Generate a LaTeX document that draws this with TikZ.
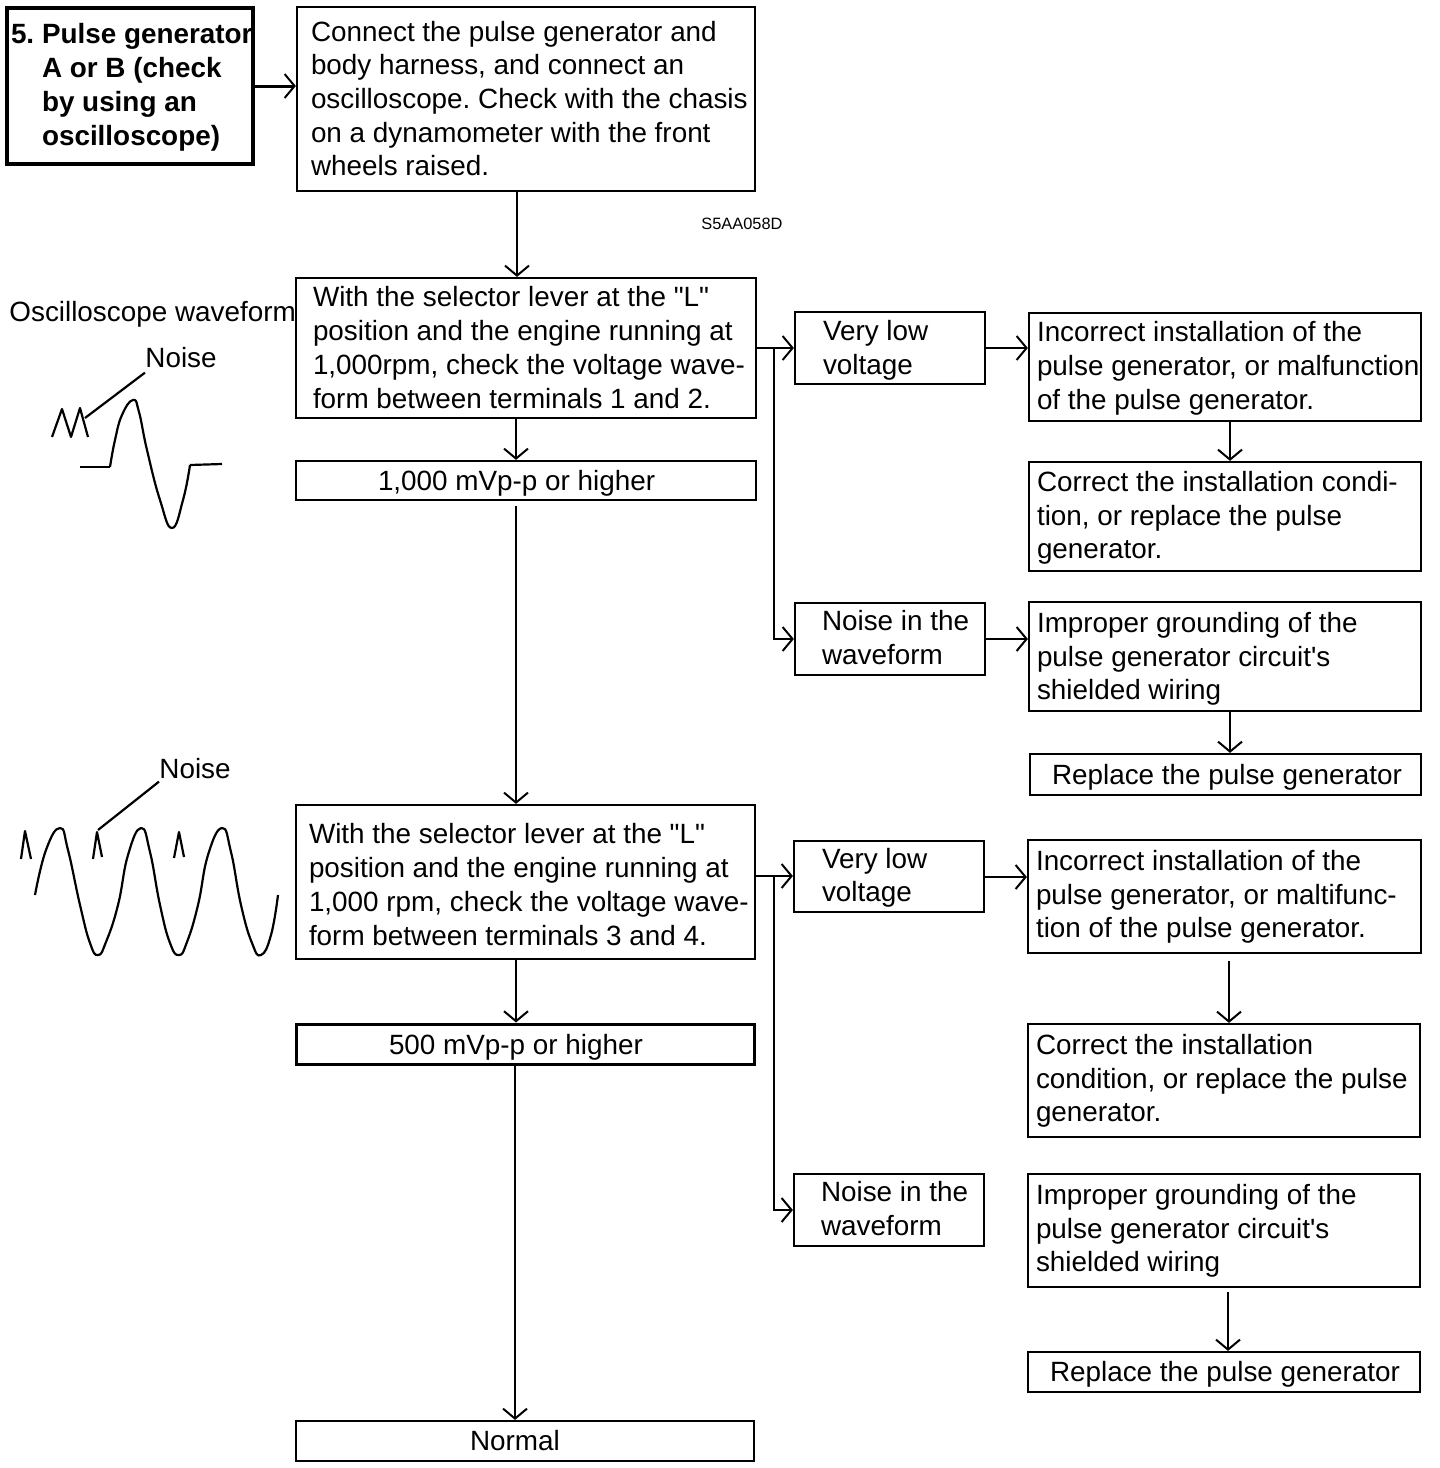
\documentclass[tikz,border=0pt]{standalone}
\usepackage{fontspec}
\setmainfont{Liberation Sans}[Ligatures=TeXOff]
\usetikzlibrary{arrows.meta}
\frenchspacing
\newcommand\bodyfont{\fontsize{13.93}{16.85}\selectfont\frenchspacing}
\tikzset{
  box/.style={draw=black,line width=1.1pt,inner sep=0pt,fill=white},
  titlebox/.style={box,line width=2pt,font=\bodyfont\bfseries},
  heavybox/.style={box,line width=1.5pt},
  conn/.style={line width=1.1pt,-{Straight Barb[length=5pt,width=12pt,line width=1pt]}},
  plain/.style={line width=1.1pt},
  wave/.style={line width=1.1pt,line join=round},
  lab/.style={anchor=west,inner sep=0pt}
}
\newcommand\bx[7][]{%
  \pgfmathsetlengthmacro\bxw{(#4-#2)*0.5pt}%
  \pgfmathsetlengthmacro\bxh{(#5-#3)*0.5pt}%
  \pgfmathsetlengthmacro\bxp{#6*0.5pt}%
  \pgfmathsetlengthmacro\bxr{-(\bxdy*0.5+3.48)*1pt}%
  \node[box,#1,minimum width=\bxw,minimum height=\bxh] (#7)
    at ({(#2+#4)/2},{(#3+#5)/2}) {\hbox to \bxw{\hskip\bxp\raisebox{\bxr}[0pt][0pt]{\bxtext}\hss}};}
\newcommand\tb[2][2.5]{\gdef\bxdy{#1}\gdef\bxtext{\begin{tabular}[c]{@{}l@{}}#2\end{tabular}}}
\begin{document}
\begin{tikzpicture}[x=0.5pt,y=-0.5pt,font=\bodyfont]
\useasboundingbox (0,0) rectangle (1440,1468);
\fill[white] (0,0) rectangle (1440,1468);
\tb[2]{5.\hspace{3.9pt}Pulse generator\\\hspace{15.5pt}A or B (check\\\hspace{15.5pt}by using an\\\hspace{15.5pt}oscilloscope)}
\bx[titlebox]{7}{8}{253}{164}{4}{b0}
\tb[3]{Connect the pulse generator and\\body harness, and connect an\\oscilloscope. Check with the chasis\\on a dynamometer with the front\\wheels raised.}
\bx{297}{7}{755}{191}{14}{b1}
\tb[3]{With the selector lever at the "L"\\position and the engine running at\\1,000rpm, check the voltage wave-\\form between terminals 1 and 2.}
\bx{296}{278}{756}{418}{17}{b2}
\tb[3]{1,000 mVp-p or higher}
\bx{296}{461}{756}{500}{82}{b3}
\tb[3]{Very low\\voltage}
\bx{795}{312}{985}{384}{28}{b4}
\tb[2]{Incorrect installation of the\\pulse generator, or malfunction\\of the pulse generator.}
\bx{1029}{313}{1421}{421}{8}{b5}
\tb[2]{Correct the installation condi-\\tion, or replace the pulse\\generator.}
\bx{1029}{462}{1421}{571}{8}{b6}
\tb[2]{Noise in the\\waveform}
\bx{795}{603}{985}{675}{27}{b7}
\tb[3]{Improper grounding of the\\pulse generator circuit's\\shielded wiring}
\bx{1029}{602}{1421}{711}{8}{b8}
\tb[3]{Replace the pulse generator}
\bx{1030}{754}{1421}{795}{22}{b9}
\tb[6]{With the selector lever at the "L"\\position and the engine running at\\1,000 rpm, check the voltage wave-\\form between terminals 3 and 4.}
\bx{296}{805}{755}{959}{13}{b10}
\tb[3.5]{500 mVp-p or higher}
\bx[heavybox]{296}{1024}{754}{1064}{93}{b11}
\tb[2]{Very low\\voltage}
\bx{794}{841}{984}{912}{28}{b12}
\tb[1]{Incorrect installation of the\\pulse generator, or maltifunc-\\tion of the pulse generator.}
\bx{1028}{840}{1421}{953}{8}{b13}
\tb[1]{Correct the installation\\condition, or replace the pulse\\generator.}
\bx{1028}{1024}{1420}{1137}{8}{b14}
\tb[2]{Noise in the\\waveform}
\bx{794}{1174}{984}{1246}{27}{b15}
\tb[1]{Improper grounding of the\\pulse generator circuit's\\shielded wiring}
\bx{1028}{1174}{1420}{1287}{8}{b16}
\tb[3]{Replace the pulse generator}
\bx{1028}{1352}{1420}{1392}{22}{b17}
\tb[2.5]{Normal}
\bx{296}{1421}{754}{1461}{174}{b18}
% labels
\node[lab,font=\fontsize{8.2}{9.6}\selectfont] (code) at (701,224) {S5AA058D};
\node[lab] (osc) at (9,314) {Oscilloscope waveform};
\node[lab] (n1) at (145,358) {Noise};
\node[lab] (n2) at (159,769) {Noise};
% guide coordinates
\coordinate (v1) at (517,0);
\coordinate (v2) at (516,0);
\coordinate (v3) at (515,0);
\coordinate (v4) at (1230,0);
\coordinate (v5) at (1229,0);
\coordinate (v6) at (1228,0);
\coordinate (h1) at (0,86);
\coordinate (h2) at (0,876);
\coordinate (h3) at (0,877);
\coordinate (j1) at (774,348);
\coordinate (j2) at (774,876);
% connectors
\draw[conn,line width=1.5pt] (h1 -| b0.east) -- (h1 -| b1.west);
\draw[conn] (v1 |- b1.south) -- (v1 |- b2.north);
\draw[conn] (v2 |- b2.south) -- (v2 |- b3.north);
\draw[conn,shorten <=2.5pt] (v2 |- b3.south) -- (v2 |- b10.north);
\draw[plain] (b2.east) -- (j1);
\draw[conn] (j1) -- (b4.west);
\draw[conn] (j1) |- (b7.west);
\draw[conn] (b4.east) -- (b4.east -| b5.west);
\draw[conn] (v4 |- b5.south) -- (v4 |- b6.north);
\draw[conn] (b7.east) -- (b7.east -| b8.west);
\draw[conn] (v4 |- b8.south) -- (v4 |- b9.north);
\draw[plain] (h2 -| b10.east) -- (j2);
\draw[conn] (j2) -- (j2 -| b12.west);
\draw[conn] (j2) |- (b15.west);
\draw[conn] (h3 -| b12.east) -- (h3 -| b13.west);
\draw[conn] (v2 |- b10.south) -- (v2 |- b11.north);
\draw[conn] (v3 |- b11.south) -- (v3 |- b18.north);
\draw[conn,shorten <=3.5pt] (v5 |- b13.south) -- (v5 |- b14.north);
\draw[conn,shorten <=2pt] (v6 |- b16.south) -- (v6 |- b17.north);
% first waveform
\coordinate (l1) at (85,418);
\draw[wave] (n1.south west) ++(0,-2pt) -- (l1);
\draw[wave] (52,437) -- (62,409) -- (71,437) -- (80,408) -- (88,437);
\draw[wave] (80,467) -- (110,467);
\draw[wave] plot[smooth,tension=0.8] coordinates {(110,467) (115,440) (122,415) (133,400) (139,412) (147,450) (160,500) (172,528) (183,500) (190,465)};
\draw[wave] (190,465) -- (222,464);
% second waveform
\coordinate (l2) at (98,830);
\draw[wave] (n2.south west) ++(0,-1pt) -- (l2);
\draw[wave] (21,859) -- (25,831) -- (31,859);
\draw[wave] (93,859) -- (97,832) -- (102,857);
\draw[wave] (174,858) -- (179,832) -- (184,857);
\draw[wave] plot[smooth,tension=0.8] coordinates {(35,895) (46,850) (60,828) (68,850) (80,905) (90,943) (98,955) (106,942) (118,905) (128,855) (141,828) (150,852) (160,905) (170,943) (179,955) (187,942) (198,905) (208,855) (222,828) (231,852) (241,905) (252,943) (261,955) (271,935) (278,895)};
\end{tikzpicture}
\end{document}
